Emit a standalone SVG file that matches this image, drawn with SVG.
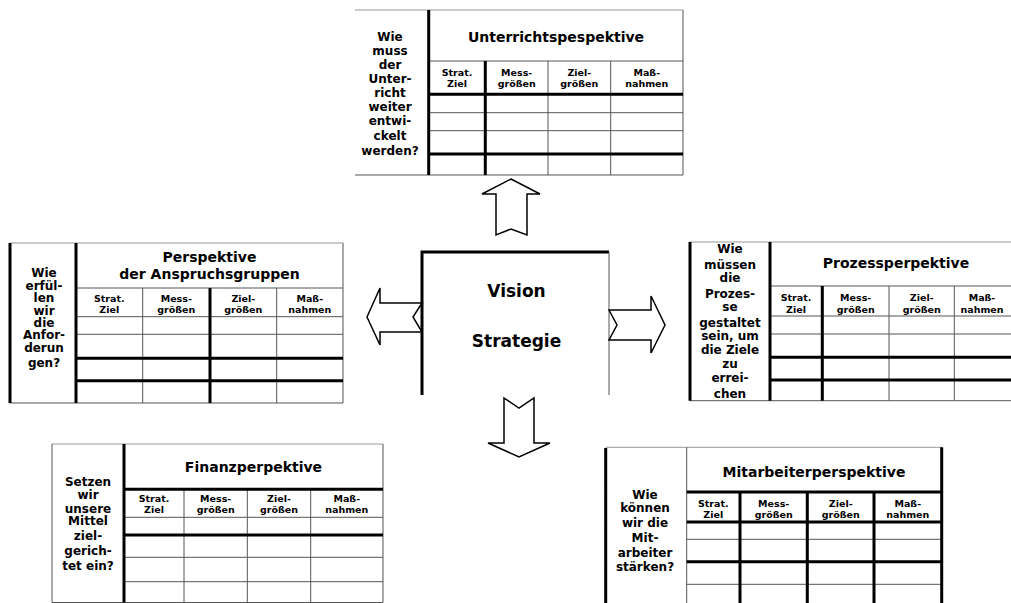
<svg xmlns="http://www.w3.org/2000/svg" width="1011" height="603" viewBox="0 0 1011 603">
<style>
.bg{fill:#fff}
.thin{stroke:#555;stroke-width:1;fill:none}
.bd{stroke:#999;stroke-width:1;fill:none}
.thick{stroke:#000;stroke-width:3;fill:none}
text{font-family:"DejaVu Sans","Verdana",sans-serif;font-weight:bold;fill:#000;text-anchor:middle}
.q{font-size:12px}
.t{font-size:14px}
.h{font-size:9.5px}
.v{font-size:17px}
.arrow{fill:#fff;stroke:#000;stroke-width:1.5;stroke-linejoin:miter}
</style>
<rect class="bg" x="0" y="0" width="1011" height="603"/>

<g id="unterricht">
<path class="bd" d="M355,10H683"/>
<path class="thin" d="M683,10V175M355,175H683M428.7,61H683M428.7,112.7H683M428.7,130.7H683M548,61V175M610.7,61V175"/>
<path class="thick" d="M428.7,10V175M428.7,94.3H683M428.7,154H683M485.3,61V175"/>
<text class="q" x="390" y="41">Wie</text>
<text class="q" x="390" y="54.5">muss</text>
<text class="q" x="390" y="68.5">der</text>
<text class="q" x="390" y="82.5">Unter-</text>
<text class="q" x="390" y="96.5">richt</text>
<text class="q" x="390" y="110.5">weiter</text>
<text class="q" x="390" y="125">entwi-</text>
<text class="q" x="390" y="140">ckelt</text>
<text class="q" x="390" y="154.5">werden?</text>
<text class="t" x="556" y="42">Unterrichtspespektive</text>
<text class="h" x="457" y="76">Strat.</text><text class="h" x="457" y="87">Ziel</text>
<text class="h" x="516.7" y="76">Mess-</text><text class="h" x="516.7" y="87">größen</text>
<text class="h" x="579.3" y="76">Ziel-</text><text class="h" x="579.3" y="87">größen</text>
<text class="h" x="646.8" y="76">Maß-</text><text class="h" x="646.8" y="87">nahmen</text>
</g>

<g id="anspruchsgruppen">
<path class="bd" d="M10,243H343"/>
<path class="thin" d="M343,243V403M10,403H343M76,288H343M76,316.7H343M76,334.3H343M142.7,288V403M276.7,288V403"/>
<path class="thick" d="M10,243V403M76,243V403M76,358.3H343M76,380.7H343M210,288V403"/>
<text class="q" x="44" y="277">Wie</text>
<text class="q" x="44" y="290">erfül-</text>
<text class="q" x="44" y="302">len</text>
<text class="q" x="44" y="315">wir</text>
<text class="q" x="44" y="327">die</text>
<text class="q" x="44" y="339">Anfor-</text>
<text class="q" x="44" y="352">derun</text>
<text class="q" x="44" y="367">gen?</text>
<text class="t" x="209.5" y="262">Perspektive</text>
<text class="t" x="209.5" y="278.5">der Anspruchsgruppen</text>
<text class="h" x="109.3" y="302">Strat.</text><text class="h" x="109.3" y="312.5">Ziel</text>
<text class="h" x="176.3" y="302">Mess-</text><text class="h" x="176.3" y="312.5">größen</text>
<text class="h" x="243.3" y="302">Ziel-</text><text class="h" x="243.3" y="312.5">größen</text>
<text class="h" x="309.8" y="302">Maß-</text><text class="h" x="309.8" y="312.5">nahmen</text>
</g>

<g id="vision">
<path class="thick" d="M422,395V252H609"/>
<path class="thin" d="M609,252V395"/>
<text class="v" x="516.5" y="297">Vision</text>
<text class="v" x="516.5" y="347">Strategie</text>
</g>

<g id="prozess">
<path class="bd" d="M690,242H1011"/>
<path class="thin" d="M690,400.7H1011M770,286H1011M770,316H1011M770,334H1011M889,286V400.7M954.3,286V400.7"/>
<path class="thick" d="M690,242V400.7M770,242V400.7M770,357.3H1011M770,380H1011M822.3,286V400.7"/>
<text class="q" x="730" y="253">Wie</text>
<text class="q" x="730" y="268.5">müssen</text>
<text class="q" x="730" y="282">die</text>
<text class="q" x="730" y="297.5">Prozes-</text>
<text class="q" x="730" y="310.5">se</text>
<text class="q" x="730" y="326.5">gestaltet</text>
<text class="q" x="730" y="340">sein, um</text>
<text class="q" x="730" y="353.5">die Ziele</text>
<text class="q" x="730" y="367.5">zu</text>
<text class="q" x="730" y="382">errei-</text>
<text class="q" x="730" y="398">chen</text>
<text class="t" x="896" y="268">Prozessperpektive</text>
<text class="h" x="796" y="300.5">Strat.</text><text class="h" x="796" y="312.5">Ziel</text>
<text class="h" x="855.7" y="300.5">Mess-</text><text class="h" x="855.7" y="312.5">größen</text>
<text class="h" x="921.7" y="300.5">Ziel-</text><text class="h" x="921.7" y="312.5">größen</text>
<text class="h" x="982" y="300.5">Maß-</text><text class="h" x="982" y="312.5">nahmen</text>
</g>

<g id="finanz">
<path class="bd" d="M52,444H383"/>
<path class="thin" d="M52,444V602.5M383,444V602.5M52,602.5H383M124,517.3H383M124,557.3H383M124,581.7H383M184,489.3V602.5M247.3,489.3V602.5M310.7,489.3V602.5"/>
<path class="thick" d="M124,444V602.5M124,489.3H383M124,535H383"/>
<text class="q" x="88" y="485.5">Setzen</text>
<text class="q" x="88" y="499">wir</text>
<text class="q" x="88" y="512.5">unsere</text>
<text class="q" x="88" y="525">Mittel</text>
<text class="q" x="88" y="540">ziel-</text>
<text class="q" x="88" y="555">gerich-</text>
<text class="q" x="88" y="570">tet ein?</text>
<text class="t" x="253.5" y="472">Finanzperpektive</text>
<text class="h" x="154" y="502">Strat.</text><text class="h" x="154" y="513">Ziel</text>
<text class="h" x="215.7" y="502">Mess-</text><text class="h" x="215.7" y="513">größen</text>
<text class="h" x="279" y="502">Ziel-</text><text class="h" x="279" y="513">größen</text>
<text class="h" x="346.8" y="502">Maß-</text><text class="h" x="346.8" y="513">nahmen</text>
</g>

<g id="mitarbeiter">
<path class="bd" d="M605.7,447.3H941.7"/>
<path class="thin" d="M686.7,447.3V603M686.7,539.3H941.7M686.7,584.3H941.7"/>
<path class="thick" d="M605.7,448V603M941.7,447.3V603M686.7,492H941.7M686.7,522H941.7M686.7,561.7H941.7M740,492V603M807.3,492V603M874,492V603"/>
<text class="q" x="645" y="498.5">Wie</text>
<text class="q" x="645" y="512">können</text>
<text class="q" x="645" y="527">wir die</text>
<text class="q" x="645" y="542">Mit-</text>
<text class="q" x="645" y="557">arbeiter</text>
<text class="q" x="645" y="570.5">stärken?</text>
<text class="t" x="814" y="477">Mitarbeiterperspektive</text>
<text class="h" x="713.3" y="507">Strat.</text><text class="h" x="713.3" y="518">Ziel</text>
<text class="h" x="773.7" y="507">Mess-</text><text class="h" x="773.7" y="518">größen</text>
<text class="h" x="840.7" y="507">Ziel-</text><text class="h" x="840.7" y="518">größen</text>
<text class="h" x="907.8" y="507">Maß-</text><text class="h" x="907.8" y="518">nahmen</text>
</g>

<g id="connectors">
<polygon class="arrow" points="511,179 540,194 527,194 527,235 511,229 496,235 496,194 482,194"/>
<polygon class="arrow" points="367,317 380,288 380,303 422,303 413,317 422,332 380,332 380,345"/>
<polygon class="arrow" points="609,310 651,310 651,296 665,325 651,353 651,340 609,340 617,325"/>
<polygon class="arrow" points="504,398 519,408 534,398 534,443 550,443 519,457 488,443 504,443"/>
</g>
</svg>
